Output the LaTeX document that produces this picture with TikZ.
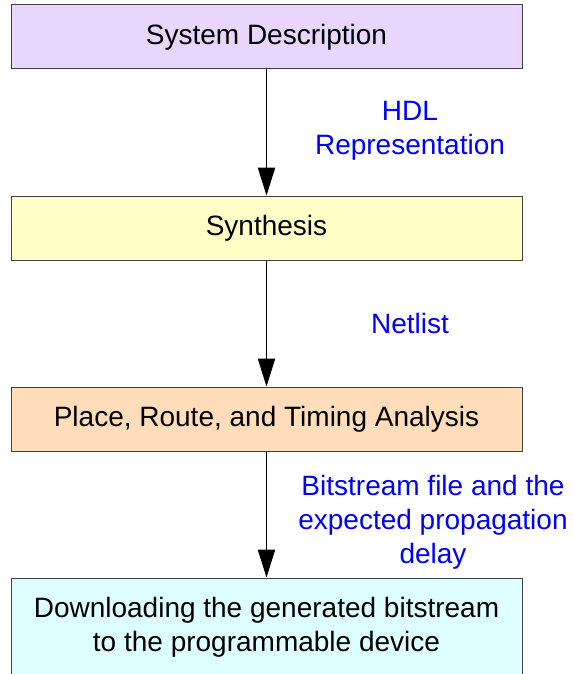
\documentclass[tikz,border=0pt]{standalone}
\usepackage{fontspec}
\setmainfont{Liberation Sans}
\usepackage{xcolor}
\usepackage{tikz}
\usetikzlibrary{arrows.meta}
\definecolor{descfill}{RGB}{232,214,252}
\definecolor{synthfill}{RGB}{255,255,200}
\definecolor{placefill}{RGB}{255,221,187}
\definecolor{loadfill}{RGB}{221,255,255}
\tikzstyle{stagebox} = [draw=black!75, line width=0.75pt, rectangle,
minimum width=383.25pt, minimum height=48pt, inner sep=0pt, align=center]
\tikzstyle{flowlabel} = [text=blue, align=center, inner sep=0pt]
\tikzstyle{flowarrow} = [draw=black, line width=0.75pt,
-{Triangle[length=21pt, width=13pt]}]

\begin{document}
\begin{tikzpicture}[x=0.75pt, y=-0.75pt, font=\fontsize{21}{25.5}\selectfont]
        \useasboundingbox (0,0) rectangle (573,674);
        \node [stagebox, fill=descfill] (desc) at (266.5,37) {System Description};
        \node [stagebox, fill=synthfill] (synth) at (266.5,228) {Synthesis};
        \node [stagebox, fill=placefill] (place) at (266.5,419) {Place, Route, and Timing Analysis};
        \node [stagebox, fill=loadfill, minimum height=73.5pt] (load) at (266.5,627)
            {Downloading the generated bitstream\\to the programmable device};
        \draw [flowarrow] (desc) -- (synth);
        \draw [flowarrow] (synth) -- (place);
        \draw [flowarrow] (place) -- (load);
        \node [flowlabel] (hdl) at (410,131) {HDL\\Representation};
        \node [flowlabel] (netlist) at (410,323) {Netlist};
        \node [flowlabel] (bitstream) at (433,522) {Bitstream file and the\\expected propagation\\delay};
    \end{tikzpicture}
\end{document}
